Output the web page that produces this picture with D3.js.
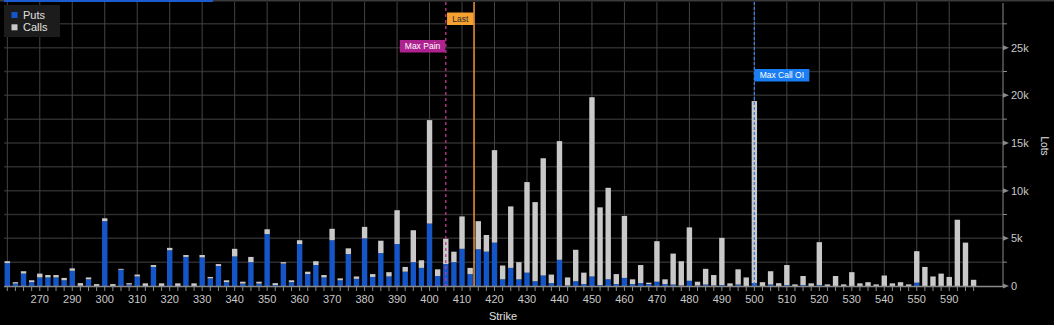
<!DOCTYPE html>
<html><head><meta charset="utf-8">
<script src="https://cdn.jsdelivr.net/npm/d3@7"></script>
<style>
html,body{margin:0;padding:0;background:#000;}
svg{display:block;}
text{font-family:"Liberation Sans",Arial,sans-serif;}
</style></head>
<body>
<svg id="chart" width="1054" height="325"></svg>
<script>
const strikes = [250,255,260,265,270,275,280,285,290,292.5,295,297.5,300,302.5,305,307.5,310,312.5,315,317.5,
320,322.5,325,327.5,330,332.5,335,337.5,340,342.5,345,347.5,350,352.5,355,357.5,360,362.5,365,367.5,
370,372.5,375,377.5,380,382.5,385,387.5,390,392.5,395,397.5,400,402.5,405,407.5,410,412.5,415,417.5,
420,422.5,425,427.5,430,432.5,435,437.5,440,442.5,445,447.5,450,452.5,455,457.5,460,462.5,465,467.5,
470,472.5,475,477.5,480,482.5,485,487.5,490,492.5,495,497.5,500,502.5,505,507.5,510,512.5,515,517.5,
520,522.5,525,527.5,530,532.5,535,537.5,540,542.5,545,547.5,550,560,570,580,590,600,610,620];

const puts = [2400,250,1300,400,900,900,900,600,1600,20,700,0,6800,0,1700,150,1000,0,2000,0,
3750,0,3050,0,3000,800,2100,400,3100,250,2500,250,5450,100,2350,400,4400,1250,2200,900,
4800,600,3350,750,5000,950,3450,1000,4400,1500,2500,1900,6550,1050,2300,2500,3900,1250,3850,3600,
4550,700,1900,700,1400,500,1100,300,2750,50,500,200,1000,100,700,200,850,200,300,200,
450,200,150,50,550,50,150,50,100,0,150,0,300,0,150,0,100,0,100,0,
100,0,0,0,0,0,0,0,0,0,0,0,350,0,0,0,0,0,0,0];

const calls = [200,150,250,200,400,250,250,250,250,280,200,200,300,200,100,150,200,280,200,280,
250,280,200,280,250,150,200,200,800,200,550,200,500,200,150,200,400,250,400,250,
1200,200,600,250,1200,300,1300,450,3550,500,3350,800,10850,700,2650,1100,3400,650,2950,1750,
9700,1450,6450,1800,9500,8300,12300,900,12450,850,3300,1200,18800,8150,9600,1050,6500,500,1900,150,
4250,500,3250,2550,5600,400,1650,1100,4950,280,1600,900,19100,400,1400,300,2100,170,950,280,
4500,170,1050,170,1450,280,400,170,1100,280,400,170,3300,2000,1000,1300,950,6950,4550,650];

const tickLabels = [270,290,300,310,320,330,340,350,360,370,380,390,400,410,420,430,440,450,460,470,480,490,500,510,520,530,540,550,590];
const yTicks = [0,5000,10000,15000,20000,25000];
const yMinor = [2500,7500,12500,17500,22500,27500];
const legendItems = ["Puts","Calls"];
const maxPain = 405, lastPrice = 413.7, maxCallOI = 500;

const svg = d3.select("#chart");
const W = 1054, H = 325;
const C = {put:"#1456c8", call:"#c9c9c9", hgrid:"#2c2c2c", vgrid:"#444444", axis:"#8a8a8a", text:"#c8c8c8"};

const x = d3.scalePoint().domain(strikes).range([7.3, 973.6]);
const y = d3.scaleLinear().domain([0, 30000]).range([286, 0]);
const axisX = 1003, plotLeft = 4;

// value -> x position (interpolating between category positions)
function xv(v){
  for(let i=0;i<strikes.length-1;i++){
    if(v>=strikes[i] && v<=strikes[i+1]){
      const t=(v-strikes[i])/(strikes[i+1]-strikes[i]);
      return x(strikes[i])+t*(x(strikes[i+1])-x(strikes[i]));
    }
  }
  return x(strikes[strikes.length-1]);
}

// top strip
svg.append("rect").attr("x",0).attr("y",0).attr("width",W).attr("height",1.5).attr("fill","#3a3a3a");
svg.append("rect").attr("x",4).attr("y",0).attr("width",209).attr("height",2).attr("fill","#1d5bd0");

// horizontal grid
const g = svg.append("g");
g.selectAll("line.hg").data(yTicks.slice(1).concat(yMinor)).join("line")
  .attr("x1",plotLeft).attr("x2",axisX).attr("y1",d=>y(d)).attr("y2",d=>y(d))
  .attr("stroke",C.hgrid).attr("stroke-width",1.5);
// vertical grid every 4th category
g.selectAll("line.vg").data(strikes.filter((d,i)=>i%4===0)).join("line")
  .attr("x1",d=>x(d)).attr("x2",d=>x(d)).attr("y1",2).attr("y2",286)
  .attr("stroke",C.vgrid).attr("stroke-width",1);

// bars
const bw = 5.4;
svg.append("g").selectAll("rect").data(strikes).join("rect")
  .attr("x",(d)=>x(d)-bw/2).attr("width",bw)
  .attr("y",(d,i)=>y(puts[i])).attr("height",(d,i)=>y(0)-y(puts[i]))
  .attr("fill",C.put);
svg.append("g").selectAll("rect").data(strikes).join("rect")
  .attr("x",(d)=>x(d)-bw/2).attr("width",bw)
  .attr("y",(d,i)=>y(puts[i]+calls[i])).attr("height",(d,i)=>y(puts[i])-y(puts[i]+calls[i]))
  .attr("fill",C.call);

// x axis
const xa = svg.append("g");
xa.append("line").attr("x1",plotLeft).attr("x2",axisX).attr("y1",286.5).attr("y2",286.5).attr("stroke",C.axis).attr("stroke-width",1.5);
xa.selectAll("line.t").data(strikes).join("line")
  .attr("x1",d=>x(d)).attr("x2",d=>x(d)).attr("y1",287).attr("y2",291).attr("stroke",C.axis);
xa.selectAll("text").data(tickLabels).join("text")
  .attr("x",d=>x(d)).attr("y",303).attr("text-anchor","middle")
  .attr("font-size",11).attr("fill",C.text).text(d=>d);
svg.append("text").attr("x",503).attr("y",320).attr("text-anchor","middle")
  .attr("font-size",11).attr("fill","#e0e0e0").text("Strike");

// y axis (right)
const ya = svg.append("g");
ya.append("line").attr("x1",axisX).attr("x2",axisX).attr("y1",3).attr("y2",287).attr("stroke",C.axis).attr("stroke-width",1);
ya.selectAll("line.mt").data(yMinor).join("line")
  .attr("x1",axisX).attr("x2",axisX+4).attr("y1",d=>y(d)).attr("y2",d=>y(d)).attr("stroke",C.axis);
ya.selectAll("path").data(yTicks).join("path")
  .attr("d",d=>`M${axisX},${y(d)-2.5}L${axisX+6},${y(d)}L${axisX},${y(d)+2.5}Z`)
  .attr("fill",C.axis);
ya.selectAll("text").data(yTicks).join("text")
  .attr("x",axisX+8).attr("y",d=>y(d)+4).attr("font-size",11).attr("fill",C.text)
  .text(d=>d===0?"0":d3.format("d")(d/1000)+"k");
svg.append("text").attr("transform","translate(1041,146) rotate(90)").attr("text-anchor","middle")
  .attr("font-size",10).attr("fill","#e0e0e0").text("Lots");

// reference lines
const ann = svg.append("g");
ann.append("line").attr("x1",xv(maxPain)).attr("x2",xv(maxPain)).attr("y1",2).attr("y2",286)
  .attr("stroke","#c2378f").attr("stroke-width",1.3).attr("stroke-dasharray","3,3");
ann.append("line").attr("x1",xv(lastPrice)).attr("x2",xv(lastPrice)).attr("y1",2).attr("y2",286)
  .attr("stroke","#f0963a").attr("stroke-width",1.5);
ann.append("line").attr("x1",xv(maxCallOI)).attr("x2",xv(maxCallOI)).attr("y1",2).attr("y2",286)
  .attr("stroke","#3b7fe0").attr("stroke-width",1.3).attr("stroke-dasharray","3,2");

function tag(xr, xl, ytop, h, fill, color, label){
  ann.append("rect").attr("x",xl).attr("y",ytop).attr("width",xr-xl).attr("height",h).attr("fill",fill);
  ann.append("text").attr("x",(xl+xr)/2).attr("y",ytop+h/2+3.2).attr("text-anchor","middle")
    .attr("font-size",8.5).attr("fill",color).text(label);
}
const xp = xv(maxPain), xl = xv(lastPrice), xc = xv(maxCallOI);
tag(xp-0.5, xp-46, 40, 12.5, "#ae2290", "#ffffff", "Max Pain");
tag(xl-0.5, xl-27, 12.5, 12.5, "#f5a030", "#2a2a2a", "Last");
tag(xc+55, xc, 69, 12.5, "#1b7df2", "#ffffff", "Max Call OI");

// legend
const lg = svg.append("g");
lg.append("rect").attr("x",4).attr("y",5).attr("width",56).attr("height",32).attr("fill","#1c1c1c");
lg.selectAll("rect.s").data(legendItems).join("rect")
  .attr("x",11.5).attr("y",(d,i)=>12+i*12.3).attr("width",6).attr("height",6)
  .attr("fill",(d,i)=>i===0?C.put:C.call);
lg.selectAll("text").data(legendItems).join("text")
  .attr("x",23).attr("y",(d,i)=>19+i*12.3).attr("font-size",11).attr("fill","#e0e0e0").text(d=>d);
</script>
</body></html>
